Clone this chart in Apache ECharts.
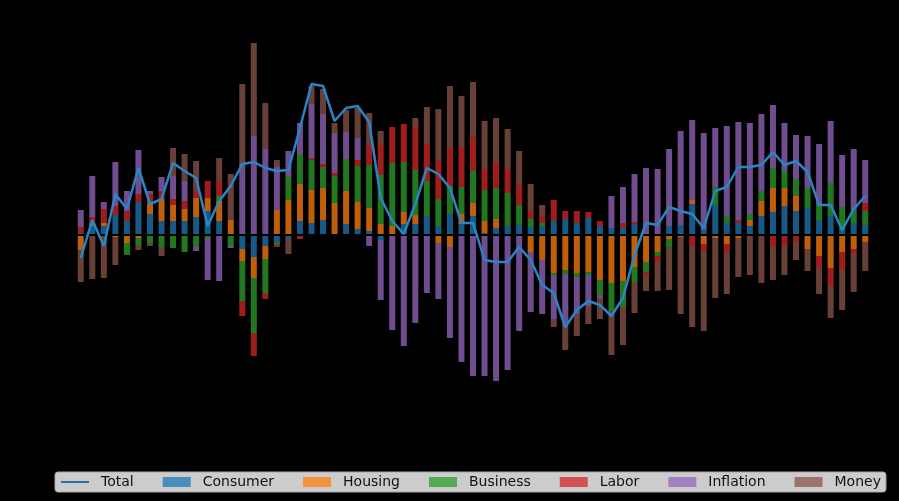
<!DOCTYPE html>
<html>
<head>
  <meta charset="UTF-8">
  <title>Contributions</title>
  <style>
    html, body { margin: 0; padding: 0; background: #000; }
    #chart { width: 899px; height: 501px; }
  </style>
  <script src="https://cdn.jsdelivr.net/npm/echarts@6/dist/echarts.min.js"></script>
</head>
<body>
  <div id="chart"></div>
  <script>
    // periods (no visible labels on the original)
    var periods = ['1','2','3','4','5','6','7','8','9','10','11','12','13','14','15','16','17','18','19','20',
      '21','22','23','24','25','26','27','28','29','30','31','32','33','34','35','36','37','38','39','40',
      '41','42','43','44','45','46','47','48','49','50','51','52','53','54','55','56','57','58','59','60',
      '61','62','63','64','65','66','67','68','69'];

    var consumer = [2, 9, 9, 20, 14, 33, 21, 14, 14, 14, 18, 24, 14, 0, -14, -22, -11, -7, -3, 14,
      12, 15, 0, 11, 6, 4, -5, 0, 11, 11, 19, 9, 21, 11, 19, 2, 7, 9, 10, 8,
      9, 14, 16, 12, 17, 9, 7, 7, 11, 0, 0, 9, 10, 31, 5, 30, 12, 12, 9, 19,
      23, 29, 24, 27, 15, 19, 5, 12, 10];
    var housing = [-15, 3, 3, -2, -8, -3, 10, 22, 16, 12, 19, 13, 20, 15, -12, -21, -13, 25, 35, 37,
      33, 32, 32, 33, 27, 23, 11, 9, 12, 9, 0, -8, -12, 10, 13, 12, 9, 0, 0, -17,
      -25, -38, -35, -38, -37, -45, -48, -46, -32, -27, -17, -4, -2, 4, -9, -3, -9, -3, 6, 15,
      24, 18, 15, -14, -21, -33, -17, -14, -7];
    var business = [0, 0, 0, 0, -12, -7, -8, -12, -13, -17, -12, -3, 5, -11, -40, -55, -34, -3, 23, 30,
      30, 21, 27, 32, 36, 43, 49, 63, 50, 45, 35, 27, 28, 27, 32, 31, 31, 33, 20, 8,
      3, -2, -4, -4, -3, -15, -28, -26, -15, -10, -4, -8, 0, 0, 0, 18, 7, 0, 6, 10,
      20, 17, 17, 20, 15, 33, 23, 13, 14];
    var labor = [6, 6, 14, 9, 10, 8, 10, 8, 6, 8, 7, 17, 15, 0, -15, -23, -6, -2, 0, -4,
      2, 3, 3, 0, 6, 20, 30, 36, 38, 43, 37, 38, 38, 39, 34, 21, 26, 24, 20, 8,
      8, 21, 8, 12, 6, 5, 0, 5, 2, -3, -6, 0, 0, -11, -7, 0, -8, 3, 0, 0,
      -11, -10, -7, 0, -12, -18, -18, -4, 8];
    var inflation = [17, 41, 7, 44, 20, 44, 3, 14, 23, 20, -4, -42, -46, -2, 72, 99, 86, 43, 26, 31,
      54, 50, 40, 27, 22, -11, -60, -95, -111, -88, -58, -56, -91, -127, -141, -141, -146, -135, -96, -60,
      -54, -44, -53, -37, -31, -3, 32, 36, 48, 67, 66, 77, 94, 80, 97, 59, 90, 98, 91, 77,
      63, 48, 44, 52, 61, 62, 52, 61, 43];
    var money = [-32, -44, -43, -28, 0, -5, -3, -9, 28, 27, 30, 0, 23, 46, 79, 93, 46, 7, -16, 0,
      18, 25, 10, 22, 30, 32, 14, 0, 0, 9, 37, 52, 62, 52, 55, 48, 44, 40, 34, 27,
      10, -8, -23, -22, -18, -21, -44, -38, -31, -16, -29, -43, -77, -81, -80, -60, -42, -39, -40, -48,
      -34, -30, -18, -22, -26, -32, -40, -39, -29];
    var total = [-23, 15, -11, 41, 26, 67, 31, 36, 72, 64, 57, 9, 34, 49, 71, 73, 67, 64, 65, 107,
      151, 149, 114, 127, 129, 113, 37, 14, 1, 31, 67, 61, 47, 12, 12, -25, -27, -27, -12, -25,
      -50, -58, -92, -75, -66, -70, -81, -63, -20, 12, 10, 28, 24, 21, 7, 44, 48, 68, 68, 70,
      83, 70, 74, 63, 30, 30, 5, 26, 39];

    var components = [
      ['Consumer', consumer, 'rgba(31,119,180,0.75)'],
      ['Housing', housing, 'rgba(255,127,14,0.75)'],
      ['Business', business, 'rgba(44,160,44,0.75)'],
      ['Labor', labor, 'rgba(214,39,40,0.75)'],
      ['Inflation', inflation, 'rgba(148,103,189,0.75)'],
      ['Money', money, 'rgba(140,86,75,0.75)']
    ];

    var series = components.map(function (c, i) {
      var s = {
        name: c[0],
        type: 'bar',
        stack: 'all',
        stackStrategy: 'samesign',
        barWidth: '52%',
        data: c[1],
        itemStyle: { color: c[2] }
      };
      if (i === components.length - 1) {
        // black zero line drawn over the bars
        s.markLine = {
          silent: true,
          symbol: 'none',
          label: { show: false },
          lineStyle: { color: '#000', width: 2, type: 'solid' },
          data: [{ yAxis: 0 }]
        };
      }
      return s;
    });

    series.push({
      name: 'Total',
      type: 'line',
      data: total,
      symbol: 'none',
      lineStyle: { color: '#2a85c4', width: 2.5 },
      itemStyle: { color: '#2a85c4' },
      z: 5
    });

    var chart = echarts.init(document.getElementById('chart'));
    chart.setOption({
      backgroundColor: '#000',
      animation: false,
      grid: { left: 75, right: 28, top: 35, height: 400 },
      xAxis: {
        type: 'category',
        data: periods,
        show: false
      },
      yAxis: {
        type: 'value',
        min: -200,
        max: 200,
        show: false
      },
      legend: {
        data: [
          { name: 'Total', itemStyle: { opacity: 0 }, lineStyle: { color: '#2b6fa6', width: 2 } },
          { name: 'Consumer', icon: 'rect' },
          { name: 'Housing', icon: 'rect' },
          { name: 'Business', icon: 'rect' },
          { name: 'Labor', icon: 'rect' },
          { name: 'Inflation', icon: 'rect' },
          { name: 'Money', icon: 'rect' }
        ],
        left: 55,
        top: 472,
        itemWidth: 28,
        itemHeight: 10,
        itemGap: 29,
        padding: [3, 5, 3, 5],
        backgroundColor: 'rgba(255,255,255,0.8)',
        borderColor: '#a8a8a8',
        borderWidth: 1,
        borderRadius: 3,
        textStyle: {
          fontFamily: 'DejaVu Sans',
          fontSize: 14,
          color: '#111',
          padding: [0, 0, 0, 7]
        }
      },
      series: series
    });
  </script>
</body>
</html>
